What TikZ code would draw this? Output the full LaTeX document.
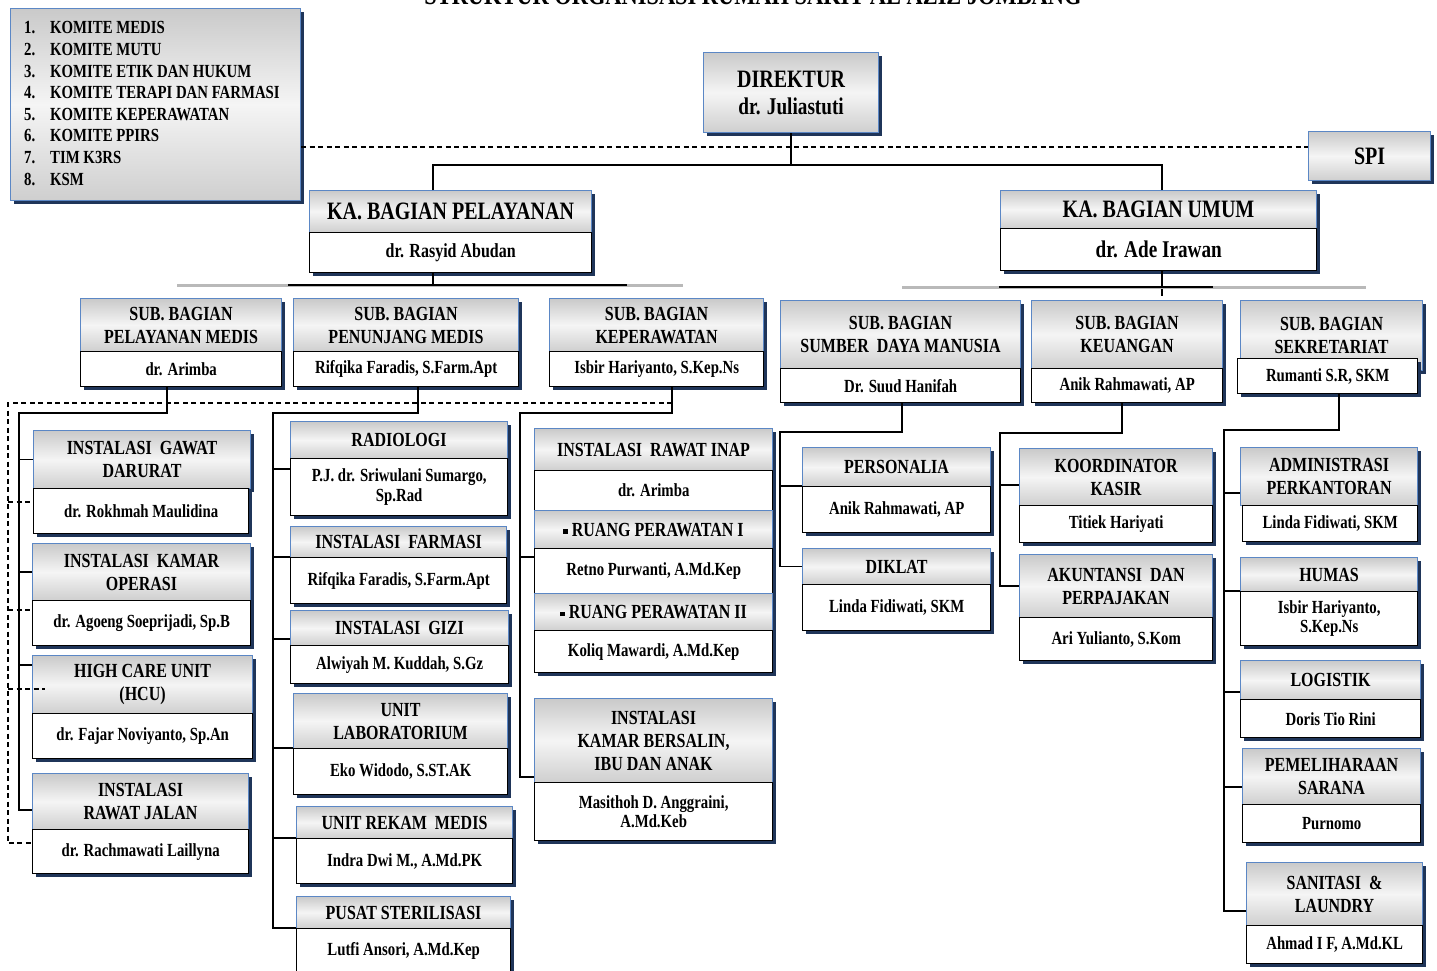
\documentclass[tikz,border=0pt]{standalone}
\usepackage{fontspec}
\setmainfont{Liberation Serif}[FakeStretch=0.8]
\usetikzlibrary{shadows,calc}
\definecolor{hdrblue}{HTML}{5B87C5}
\definecolor{shd}{HTML}{1F3559}
\newcommand\fbig{\fontsize{25}{27}\selectfont\bfseries}
\newcommand\fhdr{\fontsize{20}{23}\selectfont\bfseries}
\newcommand\fnm{\fontsize{18.5}{19.5}\selectfont\bfseries}
\newcommand\fkom{\fontsize{18.5}{21.6}\selectfont\bfseries}
\newcommand\ftitle{\fontsize{28}{28}\selectfont\bfseries}
\newcommand\sqb{\raisebox{2.5pt}{\rule{4.5pt}{4.5pt}}\ }
\newcommand\obox[7]{\node[#1,minimum width=#5,minimum height=#6] (#2) at (#3,#4) {#7};}
\begin{document}
\begin{tikzpicture}[x=1pt,y=-1pt,
 panel/.style={draw=hdrblue, line width=1.1pt, top color=gray!42, bottom color=gray!38, middle color=gray!8,
   inner sep=1pt, anchor=north west, align=center,
   drop shadow={shadow xshift=3pt,shadow yshift=-3pt,fill=shd,opacity=1}},
 hdr/.style={panel, font=\fhdr},
 big/.style={panel, font=\fbig},
 nm/.style={draw=black, line width=1.4pt, fill=white, inner sep=1pt, anchor=north west, align=center, font=\fnm,
   drop shadow={shadow xshift=3pt,shadow yshift=-3pt,fill=shd,opacity=1}},
 conn/.style={draw=black, line width=1.3pt},
 bus/.style={draw=gray!55, line width=3pt},
 dsh/.style={draw=black, line width=1.2pt, dash pattern=on 5pt off 3.5pt}]
\useasboundingbox (0,0) rectangle (1437,971);
\fill[white] (0,0) rectangle (1437,971);

% title (cut at top, as in the reference)
\node[font=\ftitle, anchor=base, inner sep=0] (title) at (753,5) {STRUKTUR ORGANISASI RUMAH SAKIT AL AZIZ JOMBANG};

% komite list
\obox{panel}{kom}{10}{8}{290}{192}{}
\foreach \i/\t in {1/KOMITE MEDIS,2/KOMITE MUTU,3/KOMITE ETIK DAN HUKUM,4/KOMITE TERAPI DAN FARMASI,5/KOMITE KEPERAWATAN,6/KOMITE PPIRS,7/TIM K3RS,8/KSM}{
  \node[font=\fkom, anchor=base west, inner sep=0] (kn\i) at (24,{34+(\i-1)*21.6}) {\i.};
  \node[font=\fkom, anchor=base west, inner sep=0] (kt\i) at (50,{34+(\i-1)*21.6}) {\t};
}

% top
\obox{big}{dir}{703}{52}{175}{80}{DIREKTUR\\\fontsize{24}{27}\selectfont dr. Juliastuti}
\obox{big}{spi}{1308}{131}{122}{49}{SPI}
\obox{big}{kapH}{309}{190}{282}{42}{KA. BAGIAN PELAYANAN}
\obox{nm}{kapN}{309}{232}{282}{40}{\fontsize{20}{22}\selectfont dr. Rasyid Abudan}
\obox{big}{kauH}{1000}{190}{316}{38}{KA. BAGIAN UMUM}
\obox{nm}{kauN}{1000}{228}{316}{42}{\fontsize{24}{26}\selectfont dr. Ade Irawan}

% sub bagian
\obox{hdr}{spmH}{80}{298}{201}{53}{SUB. BAGIAN\\PELAYANAN MEDIS}
\obox{nm}{spmN}{80}{351}{201}{35}{dr. Arimba}
\obox{hdr}{spnH}{293}{298}{225}{53}{SUB. BAGIAN\\PENUNJANG MEDIS}
\obox{nm}{spnN}{293}{351}{225}{35}{Rifqika Faradis, S.Farm.Apt}
\obox{hdr}{skpH}{549}{298}{214}{53}{SUB. BAGIAN\\KEPERAWATAN}
\obox{nm}{skpN}{549}{351}{214}{35}{Isbir Hariyanto, S.Kep.Ns}
\obox{hdr}{ssdmH}{780}{300}{240}{68}{SUB. BAGIAN\\SUMBER\ \ DAYA MANUSIA}
\obox{nm}{ssdmN}{780}{368}{240}{34}{Dr. Suud Hanifah}
\obox{hdr}{skeuH}{1031}{300}{191}{68}{SUB. BAGIAN\\KEUANGAN}
\obox{nm}{skeuN}{1031}{368}{191}{34}{Anik Rahmawati, AP}
\obox{hdr}{ssekH}{1240}{300}{182}{70}{SUB. BAGIAN\\SEKRETARIAT}
\obox{nm}{ssekN}{1237}{358}{180}{35}{Rumanti S.R, SKM}

% pelayanan medis column
\obox{hdr}{igdH}{33}{430}{217}{58}{INSTALASI\ \ GAWAT\\DARURAT}
\obox{nm}{igdN}{33}{488}{215}{45}{dr. Rokhmah Maulidina}
\obox{hdr}{ikoH}{32}{543}{218}{57}{INSTALASI\ \ KAMAR\\OPERASI}
\obox{nm}{ikoN}{32}{600}{218}{45}{dr. Agoeng Soeprijadi, Sp.B}
\obox{hdr}{hcuH}{32}{655}{220}{58}{HIGH CARE UNIT\\(HCU)}
\obox{nm}{hcuN}{32}{713}{220}{45}{dr. Fajar Noviyanto, Sp.An}
\obox{hdr}{irjH}{32}{773}{216}{56}{INSTALASI\\RAWAT JALAN}
\obox{nm}{irjN}{32}{829}{216}{44}{dr. Rachmawati Laillyna}

% penunjang medis column
\obox{hdr}{radH}{290}{421}{217}{37}{RADIOLOGI}
\obox{nm}{radN}{290}{458}{217}{57}{P.J. dr. Sriwulani Sumargo,\\Sp.Rad}
\obox{hdr}{farH}{290}{526}{216}{31}{INSTALASI\ \ FARMASI}
\obox{nm}{farN}{290}{557}{216}{46}{Rifqika Faradis, S.Farm.Apt}
\obox{hdr}{giziH}{290}{610}{218}{35}{INSTALASI\ \ GIZI}
\obox{nm}{giziN}{290}{645}{218}{38}{Alwiyah M. Kuddah, S.Gz}
\obox{hdr}{labH}{293}{693}{214}{55}{UNIT\\LABORATORIUM}
\obox{nm}{labN}{293}{748}{214}{46}{Eko Widodo, S.ST.AK}
\obox{hdr}{rmH}{296}{806}{216}{32}{UNIT REKAM\ \ MEDIS}
\obox{nm}{rmN}{296}{838}{216}{45}{Indra Dwi M., A.Md.PK}
\obox{hdr}{cssdH}{296}{896}{214}{32}{PUSAT STERILISASI}
\obox{nm}{cssdN}{296}{928}{214}{45}{Lutfi Ansori, A.Md.Kep}

% keperawatan column
\obox{hdr}{riH}{534}{428}{238}{42}{INSTALASI\ \ RAWAT INAP}
\obox{nm}{riN}{534}{470}{238}{40}{dr. Arimba}
\obox{hdr}{rp1H}{534}{510}{238}{38}{\sqb RUANG PERAWATAN I}
\obox{nm}{rp1N}{534}{548}{238}{45}{Retno Purwanti, A.Md.Kep}
\obox{hdr}{rp2H}{534}{593}{238}{37}{\sqb RUANG PERAWATAN II}
\obox{nm}{rp2N}{534}{630}{238}{42}{Koliq Mawardi, A.Md.Kep}
\obox{hdr}{kbH}{534}{698}{238}{84}{INSTALASI\\KAMAR BERSALIN,\\IBU DAN ANAK}
\obox{nm}{kbN}{534}{782}{238}{58}{Masithoh D. Anggraini,\\A.Md.Keb}

% SDM column
\obox{hdr}{persH}{802}{447}{188}{39}{PERSONALIA}
\obox{nm}{persN}{802}{486}{188}{46}{Anik Rahmawati, AP}
\obox{hdr}{diklH}{802}{548}{188}{36}{DIKLAT}
\obox{nm}{diklN}{802}{584}{188}{46}{Linda Fidiwati, SKM}

% keuangan column
\obox{hdr}{kasirH}{1019}{448}{193}{57}{KOORDINATOR\\KASIR}
\obox{nm}{kasirN}{1019}{505}{193}{37}{Titiek Hariyati}
\obox{hdr}{aktH}{1019}{554}{193}{63}{AKUNTANSI\ \ DAN\\PERPAJAKAN}
\obox{nm}{aktN}{1019}{617}{193}{43}{Ari Yulianto, S.Kom}

% sekretariat column
\obox{hdr}{admH}{1240}{447}{177}{58}{ADMINISTRASI\\PERKANTORAN}
\obox{nm}{admN}{1242}{505}{175}{36}{Linda Fidiwati, SKM}
\obox{hdr}{humH}{1240}{557}{177}{34}{HUMAS}
\obox{nm}{humN}{1240}{591}{177}{54}{Isbir Hariyanto,\\S.Kep.Ns}
\obox{hdr}{logH}{1240}{660}{180}{39}{LOGISTIK}
\obox{nm}{logN}{1240}{699}{180}{38}{Doris Tio Rini}
\obox{hdr}{pmlH}{1242}{748}{178}{56}{PEMELIHARAAN\\SARANA}
\obox{nm}{pmlN}{1242}{804}{178}{38}{Purnomo}
\obox{hdr}{sanH}{1246}{862}{176}{63}{SANITASI\ \ \&\\LAUNDRY}
\obox{nm}{sanN}{1246}{925}{176}{38}{Ahmad I F, A.Md.KL}

% ---------- connectors ----------
\coordinate (dashY) at (0,147);
\draw[dsh] (kom.east |- dashY) -- (spi.west |- dashY);
\coordinate (b1L) at (433,165);
\coordinate (b1R) at (1162,165);
\draw[conn] (dir.south) -- (dir.south |- b1L);
\draw[conn] (b1L |- kapH.north) -- (b1L) -- (b1R) -- (b1R |- kauH.north);

\coordinate (b2L) at (177,285);
\coordinate (b2R) at (683,285);
\draw[conn] (b1L |- kapN.south) -- (b1L |- b2L);
\draw[bus] (b2L) -- (b2R);
\draw[conn] ($(b2L)!0.22!(b2R)$) -- ($(b2L)!0.89!(b2R)$);

\coordinate (b3L) at (902,287);
\coordinate (b3R) at (1366,287);
\coordinate (b3D) at (1162,296);
\draw[conn] (b1R |- kauN.south) -- (b3D);
\draw[bus] (b3L) -- (b3R);
\draw[conn] ($(b3L)!0.21!(b3R)$) -- ($(b3L)!0.67!(b3R)$);

% pelayanan medis
\coordinate (c1) at (167,413);
\coordinate (c1v) at (19,413);
\path ([yshift=-10pt]hcuH.north west) coordinate (hcuB);
\path ([yshift=-37pt]irjH.north west) coordinate (irjB);
\draw[conn] (c1 |- spmN.south) -- (c1) -- (c1v) -- (c1v |- irjB) -- (irjB);
\draw[conn] (c1v |- igdH.west) -- (igdH.west);
\draw[conn] (c1v |- ikoH.west) -- (ikoH.west);
\draw[conn] (c1v |- hcuB) -- (hcuB);

% dashed line from keperawatan
\coordinate (d1) at (672,403);
\coordinate (d1v) at (8,403);
\path ([yshift=-14pt]igdN.north west) coordinate (igdD);
\path ([yshift=-10pt]ikoN.north west) coordinate (ikoD);
\path ([yshift=-34pt]hcuH.north west) coordinate (hcuD);
\path ([yshift=-14pt]irjN.north west) coordinate (irjD);
\draw[dsh] (d1) -- (d1v) -- (d1v |- irjD) -- (irjD);
\draw[dsh] (d1v |- igdD) -- (igdD);
\draw[dsh] (d1v |- ikoD) -- (ikoD);
\draw[dsh] (d1v |- hcuD) -- ([xshift=13pt]hcuD);

% penunjang medis
\coordinate (c2) at (418,413);
\coordinate (c2v) at (273,413);
\path ([yshift=-11pt]radN.north west) coordinate (radB);
\path ([yshift=-29pt]giziH.north west) coordinate (giziB);
\draw[conn] (c2 |- spnN.south) -- (c2) -- (c2v) -- (c2v |- cssdN.north west) -- (cssdN.north west);
\draw[conn] (c2v |- radB) -- (radB);
\draw[conn] (c2v |- farN.north west) -- (farN.north west);
\draw[conn] (c2v |- giziB) -- (giziB);
\draw[conn] (c2v |- labN.north west) -- (labN.north west);
\draw[conn] (c2v |- rmN.north west) -- (rmN.north west);

% keperawatan
\coordinate (c3) at (672,413);
\coordinate (c3v) at (520,413);
\path ([yshift=-9pt]rp1N.north west) coordinate (rp1B);
\path ([yshift=-79pt]kbH.north west) coordinate (kbB);
\draw[conn] (c3 |- skpN.south) -- (c3) -- (c3v) -- (c3v |- kbB) -- (kbB);
\draw[conn] (c3v |- rp1B) -- (rp1B);

% SDM
\coordinate (c4) at (902,432);
\coordinate (c4v) at (780,432);
\draw[conn] (c4 |- ssdmN.south) -- (c4) -- (c4v) -- (c4v |- diklH.west) -- (diklH.west);
\draw[conn] (c4v |- persN.north west) -- (persN.north west);

% keuangan
\coordinate (c5) at (1122,433);
\coordinate (c5v) at (1000,433);
\path ([yshift=-37pt]kasirH.north west) coordinate (kasirB);
\draw[conn] (c5 |- skeuN.south) -- (c5) -- (c5v) -- (c5v |- aktH.west) -- (aktH.west);
\draw[conn] (c5v |- kasirB) -- (kasirB);

% sekretariat
\coordinate (c6) at (1339,430);
\coordinate (c6v) at (1224,430);
\path ([yshift=-46pt]admH.north west) coordinate (admB);
\path ([yshift=-32pt]logH.north west) coordinate (logB);
\path ([yshift=-39pt]pmlH.north west) coordinate (pmlB);
\path ([yshift=-49pt]sanH.north west) coordinate (sanB);
\draw[conn] (c6 |- ssekN.south) -- (c6) -- (c6v) -- (c6v |- sanB) -- (sanB);
\draw[conn] (c6v |- admB) -- (admB);
\draw[conn] (c6v |- humN.north west) -- (humN.north west);
\draw[conn] (c6v |- logB) -- (logB);
\draw[conn] (c6v |- pmlB) -- (pmlB);
\end{tikzpicture}
\end{document}
